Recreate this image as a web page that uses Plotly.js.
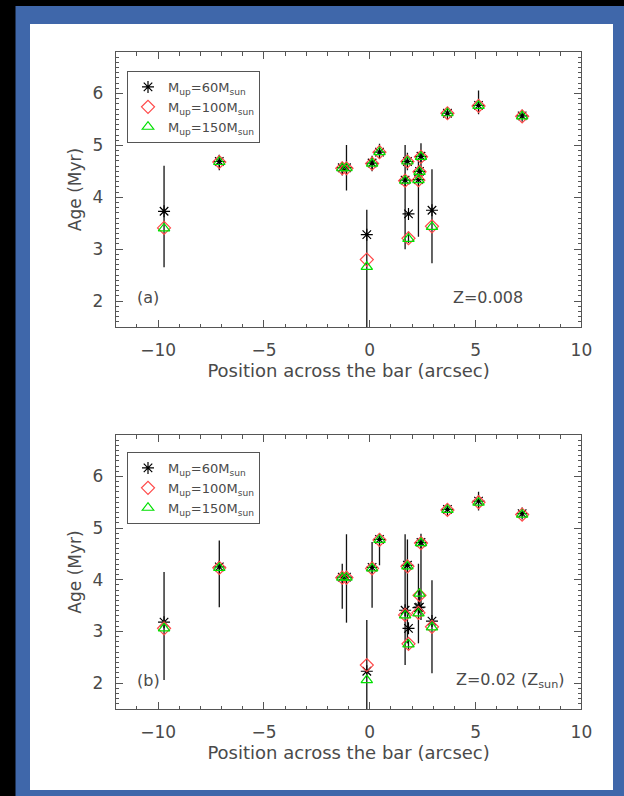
<!DOCTYPE html>
<html>
<head>
<meta charset="utf-8">
<script src="https://cdn.plot.ly/plotly-3.0.1.min.js"></script>
<style>
html,body{margin:0;padding:0;background:#000;}
#chart{width:624px;height:796px;}
</style>
</head>
<body>
<div id="chart"></div>
<script>
// ---- data ----
const positions = [-9.72, -7.11, -1.3, -1.1, -0.14, 0.11, 0.46, 1.67, 1.78, 1.83, 2.30, 2.35, 2.42, 2.94, 3.67, 5.14, 7.2];

// Panel (a) Z=0.008
const ageA_60  = [3.73, 4.69, 4.57, 4.57, 3.28, 4.66, 4.87, 4.33, 4.69, 3.68, 4.34, 4.50, 4.79, 3.75, 5.62, 5.77, 5.57];
const ageA_100 = [3.41, 4.68, 4.56, 4.56, 2.80, 4.65, 4.87, 4.32, 4.69, 3.21, 4.33, 4.49, 4.78, 3.44, 5.62, 5.76, 5.56];
const ageA_150 = [3.40, 4.68, 4.56, 4.56, 2.66, 4.65, 4.87, 4.32, 4.69, 3.20, 4.33, 4.49, 4.78, 3.43, 5.62, 5.76, 5.56];
const errLowA  = [2.65, 4.52, 4.42, 4.13, 1.00, 4.50, 4.75, 3.00, 4.52, 3.12, 3.24, 4.42, 4.40, 2.73, 5.57, 5.60, 5.52];
const errHighA = [4.61, 4.82, 4.68, 5.01, 3.76, 4.80, 5.03, 5.01, 4.86, 3.34, 4.72, 4.58, 5.04, 4.54, 5.67, 6.06, 5.62];

// Panel (b) Z=0.02 (Zsun)
const ageB_60  = [3.18, 4.25, 4.05, 4.05, 2.23, 4.24, 4.78, 3.41, 4.28, 3.06, 3.46, 3.47, 4.72, 3.20, 5.36, 5.52, 5.28];
const ageB_100 = [3.06, 4.23, 4.04, 4.04, 2.35, 4.22, 4.77, 3.32, 4.26, 2.76, 3.36, 3.70, 4.71, 3.09, 5.35, 5.50, 5.26];
const ageB_150 = [3.06, 4.23, 4.04, 4.04, 2.06, 4.22, 4.77, 3.31, 4.26, 2.75, 3.35, 3.73, 4.71, 3.08, 5.35, 5.49, 5.26];
const errLowB  = [2.06, 3.47, 3.44, 3.17, 1.00, 3.46, 4.28, 2.35, 2.77, 2.65, 2.77, 3.40, 3.22, 2.19, 5.31, 5.34, 5.22];
const errHighB = [4.15, 4.76, 4.31, 4.88, 3.22, 4.73, 4.89, 4.88, 4.78, 2.85, 4.31, 3.80, 4.89, 3.99, 5.41, 5.70, 5.32];

const seriesNames = ["M<sub>up</sub>=60M<sub>sun</sub>", "M<sub>up</sub>=100M<sub>sun</sub>", "M<sub>up</sub>=150M<sub>sun</sub>"];
const xTitle = "Position across the bar (arcsec)";
const yTitle = "Age (Myr)";

// ---- build traces ----
function errTrace(xs, lo, hi, xa, ya) {
  const ex = [], ey = [];
  for (let i = 0; i < xs.length; i++) {
    ex.push(xs[i], xs[i], null);
    ey.push(lo[i], hi[i], null);
  }
  return {x: ex, y: ey, mode: 'lines', line: {color: '#111', width: 1.3},
          xaxis: xa, yaxis: ya, showlegend: false, hoverinfo: 'skip'};
}
const styles = [
  {symbol: 'asterisk-open', size: 10, color: '#000000', lw: 1.2},
  {symbol: 'diamond-open', size: 10, color: '#ff4a4a', lw: 1.2},
  {symbol: 'triangle-up-open', size: 10, color: '#00e000', lw: 1.2}
];
function pointTraces(series, xa, ya, legendName) {
  return series.map((ys, k) => ({
    x: positions, y: ys, mode: 'markers', name: seriesNames[k],
    marker: {symbol: styles[k].symbol, size: styles[k].size, color: styles[k].color,
             line: {color: styles[k].color, width: styles[k].lw}},
    xaxis: xa, yaxis: ya, legend: legendName
  }));
}

const data = [
  errTrace(positions, errLowA, errHighA, 'x', 'y'),
  ...pointTraces([ageA_60, ageA_100, ageA_150], 'x', 'y', 'legend'),
  errTrace(positions, errLowB, errHighB, 'x2', 'y2'),
  ...pointTraces([ageB_60, ageB_100, ageB_150], 'x2', 'y2', 'legend2')
];

const W = 624, H = 796;
const fontFam = 'DejaVu Sans, sans-serif';
const txtCol = '#4a4a4a';
const px = v => v / W, py = v => 1 - v / H;

function xAxis(anchor) {
  return {
    range: [-12, 10], dtick: 5, tick0: 0, domain: [px(115.8), px(581.4)], anchor: anchor,
    showline: true, linecolor: '#555', linewidth: 1, mirror: 'allticks',
    ticks: 'inside', ticklen: 7, tickcolor: '#555', showgrid: false, zeroline: false,
    minor: {dtick: 1, ticks: 'inside', ticklen: 3.5, tickcolor: '#555', showgrid: false},
    tickfont: {family: fontFam, size: 17, color: txtCol}, ticklabelstandoff: 8,
    title: {text: xTitle, font: {family: fontFam, size: 18, color: txtCol}, standoff: 4},
    automargin: false
  };
}
function yAxis(anchor, top, bottom) {
  return {
    range: [1.5, 6.8], dtick: 1, tick0: 0, domain: [py(bottom), py(top)], anchor: anchor,
    showline: true, linecolor: '#555', linewidth: 1, mirror: 'allticks',
    ticks: 'inside', ticklen: 7, tickcolor: '#555', showgrid: false, zeroline: false,
    minor: {dtick: 0.1, ticks: 'inside', ticklen: 3.5, tickcolor: '#555', showgrid: false},
    tickfont: {family: fontFam, size: 17, color: txtCol}, ticklabelstandoff: 8,
    title: {text: yTitle, font: {family: fontFam, size: 17, color: txtCol}, standoff: 6},
    automargin: false
  };
}

const legendCommon = {
  xanchor: 'left', yanchor: 'top', bgcolor: 'rgba(255,255,255,0)',
  bordercolor: '#555', borderwidth: 1,
  font: {family: fontFam, size: 13, color: txtCol},
  tracegroupgap: 0, itemwidth: 30
};

const annFont = {family: fontFam, size: 16, color: txtCol};
const layout = {
  width: W, height: H,
  margin: {l: 0, r: 0, t: 0, b: 0},
  paper_bgcolor: '#000000', plot_bgcolor: 'rgba(0,0,0,0)',
  showlegend: true,
  xaxis: xAxis('y'),
  yaxis: yAxis('x', 52, 327),
  xaxis2: xAxis('y2'),
  yaxis2: yAxis('x2', 435, 709),
  legend: Object.assign({x: px(127), y: py(71)}, legendCommon),
  legend2: Object.assign({x: px(127), y: py(452)}, legendCommon),
  shapes: [
    {type: 'rect', xref: 'paper', yref: 'paper', x0: px(15.5), x1: px(624), y0: py(796), y1: py(6),
     fillcolor: '#3f67aa', line: {width: 0}, layer: 'below'},
    {type: 'rect', xref: 'paper', yref: 'paper', x0: px(30), x1: px(613), y0: py(790), y1: py(24),
     fillcolor: '#ffffff', line: {width: 0}, layer: 'below'}
  ],
  annotations: [
    {text: '(a)', xref: 'paper', yref: 'paper', x: px(148), y: py(297), xanchor: 'center', yanchor: 'middle', showarrow: false, font: annFont},
    {text: 'Z=0.008', xref: 'paper', yref: 'paper', x: px(488), y: py(297), xanchor: 'center', yanchor: 'middle', showarrow: false, font: annFont},
    {text: '(b)', xref: 'paper', yref: 'paper', x: px(148), y: py(680), xanchor: 'center', yanchor: 'middle', showarrow: false, font: annFont},
    {text: 'Z=0.02 (Z<sub>sun</sub>)', xref: 'paper', yref: 'paper', x: px(510), y: py(680), xanchor: 'center', yanchor: 'middle', showarrow: false, font: annFont}
  ]
};

Plotly.newPlot('chart', data, layout, {displayModeBar: false, staticPlot: true});
</script>
</body>
</html>
